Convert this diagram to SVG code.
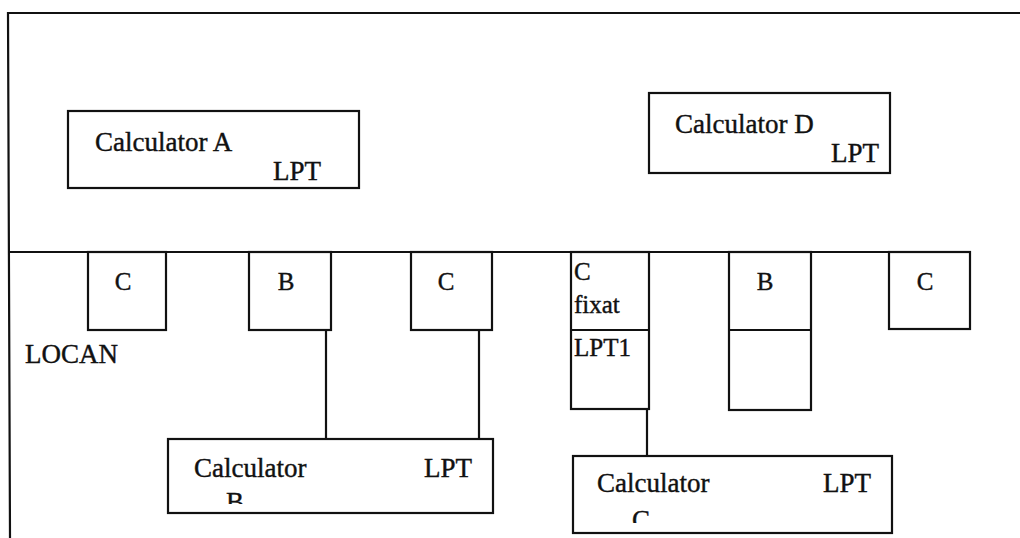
<svg xmlns="http://www.w3.org/2000/svg" width="1020" height="538" viewBox="0 0 1020 538">
  <style>
    .box { fill: #fff; stroke: #111; stroke-width: 2.2; }
    .line { fill: none; stroke: #111; stroke-width: 2.2; }
    text { font-family: 'Liberation Serif', 'Times New Roman', 'DejaVu Serif', serif; fill: #111; stroke: #111; stroke-width: 0.4; }
    .t { font-size: 27px; }
    .s { font-size: 25px; }
    .m { text-anchor: middle; }
  </style>
  <defs>
    <!-- lower label lines sit partly under the box bottom edge -->
    <clipPath id="clipB"><rect x="168" y="439" width="325" height="65"/></clipPath>
    <clipPath id="clipC"><rect x="573" y="456" width="319" height="67"/></clipPath>
  </defs>

  <rect width="1020" height="538" fill="#fff"/>

  <!-- outer frame (top and left edges) -->
  <g id="frame">
    <path class="line" d="M10 538 L8 13 L1020 13"/>
  </g>

  <!-- LOCAN bus and wiring -->
  <g id="connectors">
    <path class="line" d="M8 252 L970 252"/>
    <path class="line" d="M326 330 L326 439"/>
    <path class="line" d="M479 330 L479 439"/>
    <path class="line" d="M647 409 L647 456"/>
  </g>

  <g id="calc-a">
    <rect class="box" x="68" y="111" width="291" height="77"/>
    <text class="t" x="95" y="151">Calculator A</text>
    <text class="t" x="273" y="180">LPT</text>
  </g>

  <g id="calc-d">
    <rect class="box" x="649" y="93" width="241" height="80"/>
    <text class="t" x="675" y="133">Calculator D</text>
    <text class="t" x="831" y="162">LPT</text>
  </g>

  <g id="card-c1">
    <rect class="box" x="88" y="252" width="78" height="78"/>
    <text class="s m" x="123" y="290">C</text>
  </g>

  <g id="card-b1">
    <rect class="box" x="249" y="252" width="82" height="78"/>
    <text class="s m" x="286" y="290">B</text>
  </g>

  <g id="card-c2">
    <rect class="box" x="411" y="252" width="81" height="78"/>
    <text class="s m" x="446" y="290">C</text>
  </g>

  <g id="card-c-fixat">
    <rect class="box" x="571" y="252" width="78" height="157"/>
    <path class="line" d="M571 330 L649 330"/>
    <text class="s" x="574" y="280">C</text>
    <text class="s" x="574" y="313">fixat</text>
    <text class="s" x="574" y="356">LPT1</text>
  </g>

  <g id="card-b2">
    <rect class="box" x="729" y="252" width="82" height="158"/>
    <path class="line" d="M729 330 L811 330"/>
    <text class="s m" x="765" y="290">B</text>
  </g>

  <g id="card-c3">
    <rect class="box" x="889" y="252" width="81" height="77"/>
    <text class="s m" x="925" y="290">C</text>
  </g>

  <g id="locan-label">
    <text class="t" x="25" y="363">LOCAN</text>
  </g>

  <g id="calc-b">
    <rect class="box" x="168" y="439" width="325" height="74"/>
    <text class="t" x="194" y="477">Calculator</text>
    <text class="t" x="424" y="477">LPT</text>
    <text class="t" x="226" y="511" clip-path="url(#clipB)">B</text>
  </g>

  <g id="calc-c">
    <rect class="box" x="573" y="456" width="319" height="77"/>
    <text class="t" x="597" y="492">Calculator</text>
    <text class="t" x="823" y="492">LPT</text>
    <text class="t" x="632" y="529" clip-path="url(#clipC)">C</text>
  </g>
</svg>
